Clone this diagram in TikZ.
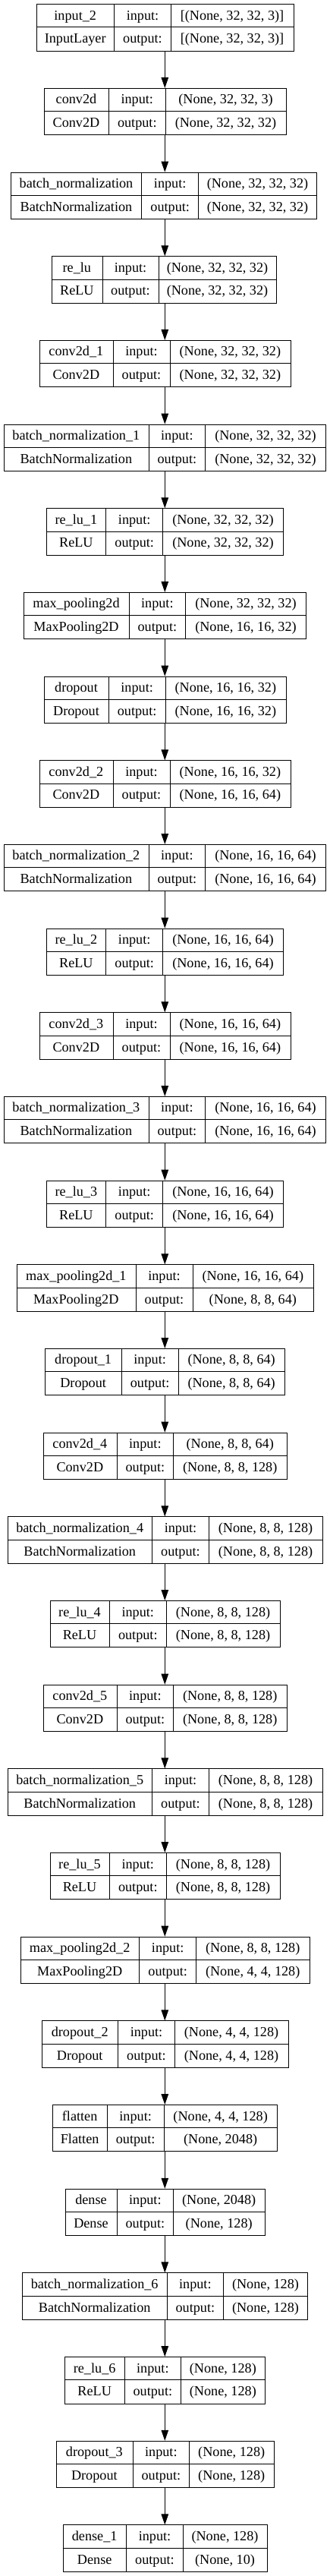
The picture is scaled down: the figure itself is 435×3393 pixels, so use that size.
\documentclass[tikz,border=0pt]{standalone}
\usepackage{fontspec}
\setmainfont{Liberation Serif}
\usetikzlibrary{arrows.meta}
\tikzset{
  boxframe/.style={draw=black, line width=1pt, inner sep=0pt, anchor=north west},
  cellsep/.style={draw=black, line width=1pt},
  celltxt/.style={anchor=base, inner sep=0pt, font=\fontsize{18.2}{20}\selectfont},
  flow/.style={draw=black, line width=1pt, -{Triangle[length=14pt,width=9.5pt]}}
}
\newcommand{\kerlayer}[9]{%
  \pgfmathsetmacro{\ktp}{-(5.3+110.67*#1)}%
  \pgfmathsetmacro{\kbt}{\ktp-61.4}%
  \pgfmathsetmacro{\kmd}{\ktp-30.7}%
  \pgfmathsetmacro{\kwd}{#9-#6}%
  \pgfmathsetmacro{\kra}{\ktp-15.35-5.6}%
  \pgfmathsetmacro{\krb}{\ktp-46.05-5.6}%
  \pgfmathsetmacro{\kca}{(#6+#7)/2}%
  \pgfmathsetmacro{\kcb}{(#7+#8)/2}%
  \pgfmathsetmacro{\kcc}{(#8+#9)/2}%
  \node[boxframe, minimum width=\kwd pt, minimum height=61.4pt] (L#1) at (#6,\ktp) {};
  \draw[cellsep] (#6,\kmd) -- (#9,\kmd);
  \draw[cellsep] (#7,\ktp) -- (#7,\kbt);
  \draw[cellsep] (#8,\ktp) -- (#8,\kbt);
  \node[celltxt] (L#1name) at (\kca,\kra) {#2};
  \node[celltxt] (L#1class) at (\kca,\krb) {#3};
  \node[celltxt] (L#1inl) at (\kcb,\kra) {input:};
  \node[celltxt] (L#1outl) at (\kcb,\krb) {output:};
  \node[celltxt] (L#1in) at (\kcc,\kra) {#4};
  \node[celltxt] (L#1out) at (\kcc,\krb) {#5};
}
\begin{document}
\begin{tikzpicture}[x=1pt,y=1pt]
\useasboundingbox[fill=white] (0,0) rectangle (435,-3393);
\coordinate (axis) at (217.3,0);
\kerlayer{0}{input\_2}{InputLayer}{[(None, 32, 32, 3)]}{[(None, 32, 32, 3)]}{47.7}{150.7}{225.3}{386.7}
\kerlayer{1}{conv2d}{Conv2D}{(None, 32, 32, 3)}{(None, 32, 32, 32)}{57.7}{143.3}{218.3}{376.7}
\kerlayer{2}{batch\_normalization}{BatchNormalization}{(None, 32, 32, 32)}{(None, 32, 32, 32)}{14.3}{186.7}{261.7}{417.3}
\kerlayer{3}{re\_lu}{ReLU}{(None, 32, 32, 32)}{(None, 32, 32, 32)}{67.7}{135}{209}{364}
\kerlayer{4}{conv2d\_1}{Conv2D}{(None, 32, 32, 32)}{(None, 32, 32, 32)}{51.7}{149}{224}{382.7}
\kerlayer{5}{batch\_normalization\_1}{BatchNormalization}{(None, 32, 32, 32)}{(None, 32, 32, 32)}{4.7}{196}{270.7}{429.3}
\kerlayer{6}{re\_lu\_1}{ReLU}{(None, 32, 32, 32)}{(None, 32, 32, 32)}{61}{139.7}{214.7}{373.3}
\kerlayer{7}{max\_pooling2d}{MaxPooling2D}{(None, 32, 32, 32)}{(None, 16, 16, 32)}{31}{170}{244.7}{403.3}
\kerlayer{8}{dropout}{Dropout}{(None, 16, 16, 32)}{(None, 16, 16, 32)}{57.7}{143.3}{218}{376.7}
\kerlayer{9}{conv2d\_2}{Conv2D}{(None, 16, 16, 32)}{(None, 16, 16, 64)}{51.7}{149}{224}{382.7}
\kerlayer{10}{batch\_normalization\_2}{BatchNormalization}{(None, 16, 16, 64)}{(None, 16, 16, 64)}{4.7}{196}{270.7}{429.3}
\kerlayer{11}{re\_lu\_2}{ReLU}{(None, 16, 16, 64)}{(None, 16, 16, 64)}{61}{139.7}{214.7}{373.3}
\kerlayer{12}{conv2d\_3}{Conv2D}{(None, 16, 16, 64)}{(None, 16, 16, 64)}{51.7}{149}{224}{382.7}
\kerlayer{13}{batch\_normalization\_3}{BatchNormalization}{(None, 16, 16, 64)}{(None, 16, 16, 64)}{4.7}{196}{270.7}{429.3}
\kerlayer{14}{re\_lu\_3}{ReLU}{(None, 16, 16, 64)}{(None, 16, 16, 64)}{61}{139.7}{214.7}{373.3}
\kerlayer{15}{max\_pooling2d\_1}{MaxPooling2D}{(None, 16, 16, 64)}{(None, 8, 8, 64)}{21.7}{179}{254}{412.7}
\kerlayer{16}{dropout\_1}{Dropout}{(None, 8, 8, 64)}{(None, 8, 8, 64)}{59}{160.3}{235}{375.3}
\kerlayer{17}{conv2d\_4}{Conv2D}{(None, 8, 8, 64)}{(None, 8, 8, 128)}{56.7}{154}{228.7}{377.7}
\kerlayer{18}{batch\_normalization\_4}{BatchNormalization}{(None, 8, 8, 128)}{(None, 8, 8, 128)}{9.7}{200.7}{275.3}{424.7}
\kerlayer{19}{re\_lu\_4}{ReLU}{(None, 8, 8, 128)}{(None, 8, 8, 128)}{65.7}{144.3}{219.3}{368.7}
\kerlayer{20}{conv2d\_5}{Conv2D}{(None, 8, 8, 128)}{(None, 8, 8, 128)}{56.7}{154}{228.7}{377.7}
\kerlayer{21}{batch\_normalization\_5}{BatchNormalization}{(None, 8, 8, 128)}{(None, 8, 8, 128)}{9.7}{200.7}{275.3}{424.7}
\kerlayer{22}{re\_lu\_5}{ReLU}{(None, 8, 8, 128)}{(None, 8, 8, 128)}{65.7}{144.3}{219.3}{368.7}
\kerlayer{23}{max\_pooling2d\_2}{MaxPooling2D}{(None, 8, 8, 128)}{(None, 4, 4, 128)}{26.7}{183.7}{258.7}{407.7}
\kerlayer{24}{dropout\_2}{Dropout}{(None, 4, 4, 128)}{(None, 4, 4, 128)}{54.7}{155.7}{230.3}{379.7}
\kerlayer{25}{flatten}{Flatten}{(None, 4, 4, 128)}{(None, 2048)}{69}{141.3}{216}{365.3}
\kerlayer{26}{dense}{Dense}{(None, 2048)}{(None, 128)}{86}{154}{228.7}{348.7}
\kerlayer{27}{batch\_normalization\_6}{BatchNormalization}{(None, 128)}{(None, 128)}{29.3}{220}{294.7}{405.3}
\kerlayer{28}{re\_lu\_6}{ReLU}{(None, 128)}{(None, 128)}{85.3}{164}{238.7}{349}
\kerlayer{29}{dropout\_3}{Dropout}{(None, 128)}{(None, 128)}{73.7}{175}{249.7}{360.7}
\kerlayer{30}{dense\_1}{Dense}{(None, 128)}{(None, 10)}{82.7}{166.7}{241.3}{351.7}
\foreach \a [evaluate=\a as \b using int(\a+1)] in {0,...,29} {
  \draw[flow] (L\a.south -| axis) -- (L\b.north -| axis);
}
\end{tikzpicture}
\end{document}
